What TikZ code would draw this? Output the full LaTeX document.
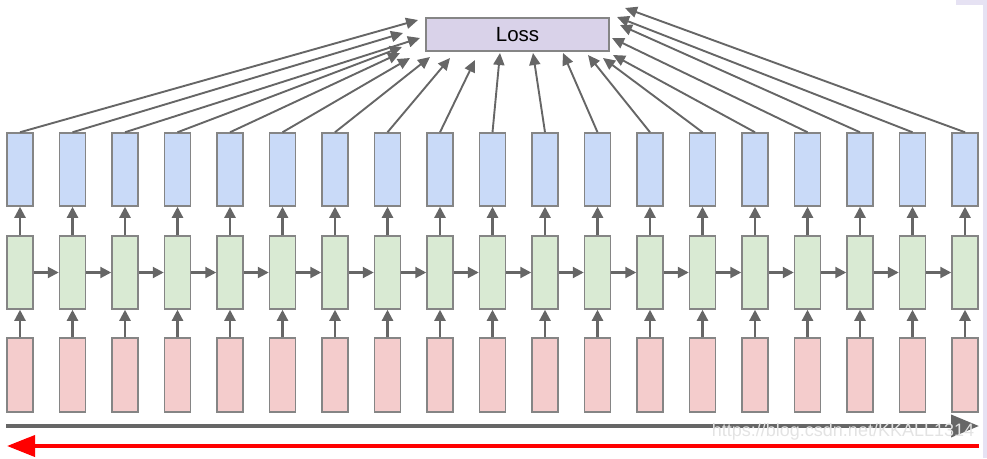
\documentclass[tikz,border=0pt]{standalone}
\usepackage{fontspec}
\setmainfont{Liberation Sans}
\usetikzlibrary{arrows.meta}
\definecolor{bluef}{HTML}{C9DAF8}
\definecolor{greenf}{HTML}{D9EAD3}
\definecolor{redf}{HTML}{F4CCCC}
\definecolor{lossf}{HTML}{D9D2E9}
\definecolor{edgec}{HTML}{858585}
\definecolor{arrc}{HTML}{666666}
\definecolor{stripc}{HTML}{E6E2F3}
\begin{document}
\begin{tikzpicture}[x=1pt,y=-1pt,
  cell/.style={draw=edgec,line width=1.5pt,minimum width=26pt,inner sep=0pt},
  bbox/.style={cell,fill=bluef,minimum height=73pt},
  gbox/.style={cell,fill=greenf,minimum height=73pt},
  rbox/.style={cell,fill=redf,minimum height=74pt},
  lossbox/.style={draw=edgec,line width=1.5pt,fill=lossf,minimum width=183pt,minimum height=33pt,inner sep=0pt,font=\fontsize{20.5}{21}\selectfont},
  arr/.style={draw=arrc,line width=2.2pt,-{Triangle[length=11pt,width=11pt]}},
  larr/.style={draw=arrc,line width=1.9pt,-{Triangle[length=12pt,width=11pt]}},
  bigarr/.style={draw=arrc,line width=3.8pt,-{Triangle[length=28pt,width=22pt]}},
  redarr/.style={draw=red,line width=3.8pt,-{Triangle[length=28pt,width=21pt]}},
  wmark/.style={text=gray!22,font=\fontsize{18}{18}\selectfont,inner sep=0pt}
]
\useasboundingbox (0,0) rectangle (987,458);
\fill[stripc] (983,0) rectangle (987,458);
\fill[stripc] (956,0) rectangle (987,5);
\node[lossbox] (loss) at (517.5,34.5) {Loss};
\foreach \i in {1,...,19}{
  \pgfmathsetmacro\cx{20+52.5*(\i-1)}
  \node[bbox] (b\i) at (\cx,169.5) {};
  \node[gbox] (g\i) at (\cx,272.5) {};
  \node[rbox] (r\i) at (\cx,375) {};
  \draw[arr] (g\i.north) -- (b\i.south);
  \draw[arr] (r\i.north) -- (g\i.south);
}
\foreach \i [evaluate=\i as \j using int(\i+1)] in {1,...,18}{
  \draw[arr] (g\i.east) -- (g\j.west);
}
\coordinate (t1) at (418,20);
\coordinate (t2) at (403,33);
\coordinate (t3) at (420,38);
\coordinate (t4) at (402,47);
\coordinate (t5) at (400,53);
\coordinate (t6) at (410,58);
\coordinate (t7) at (430,57);
\coordinate (t8) at (450,58);
\coordinate (t9) at (475,60);
\coordinate (t10) at (500,53);
\coordinate (t11) at (533,53);
\coordinate (t12) at (563,53);
\coordinate (t13) at (588,55);
\coordinate (t14) at (603,58);
\coordinate (t15) at (613,55);
\coordinate (t16) at (612,38);
\coordinate (t17) at (620,25);
\coordinate (t18) at (617,17);
\coordinate (t19) at (625,8);
\foreach \i in {1,...,19}{
  \draw[larr] (b\i.north) -- (t\i);
}
\coordinate (fa) at (6,426);
\coordinate (fb) at (979,426);
\draw[bigarr] (fa) -- (fb);
\coordinate (ra) at (979,446);
\coordinate (rb) at (7,446);
\draw[redarr] (ra) -- (rb);
\node[wmark] (wm) at (843,432) {https://blog.csdn.net/KKALL1314};
\end{tikzpicture}
\end{document}
